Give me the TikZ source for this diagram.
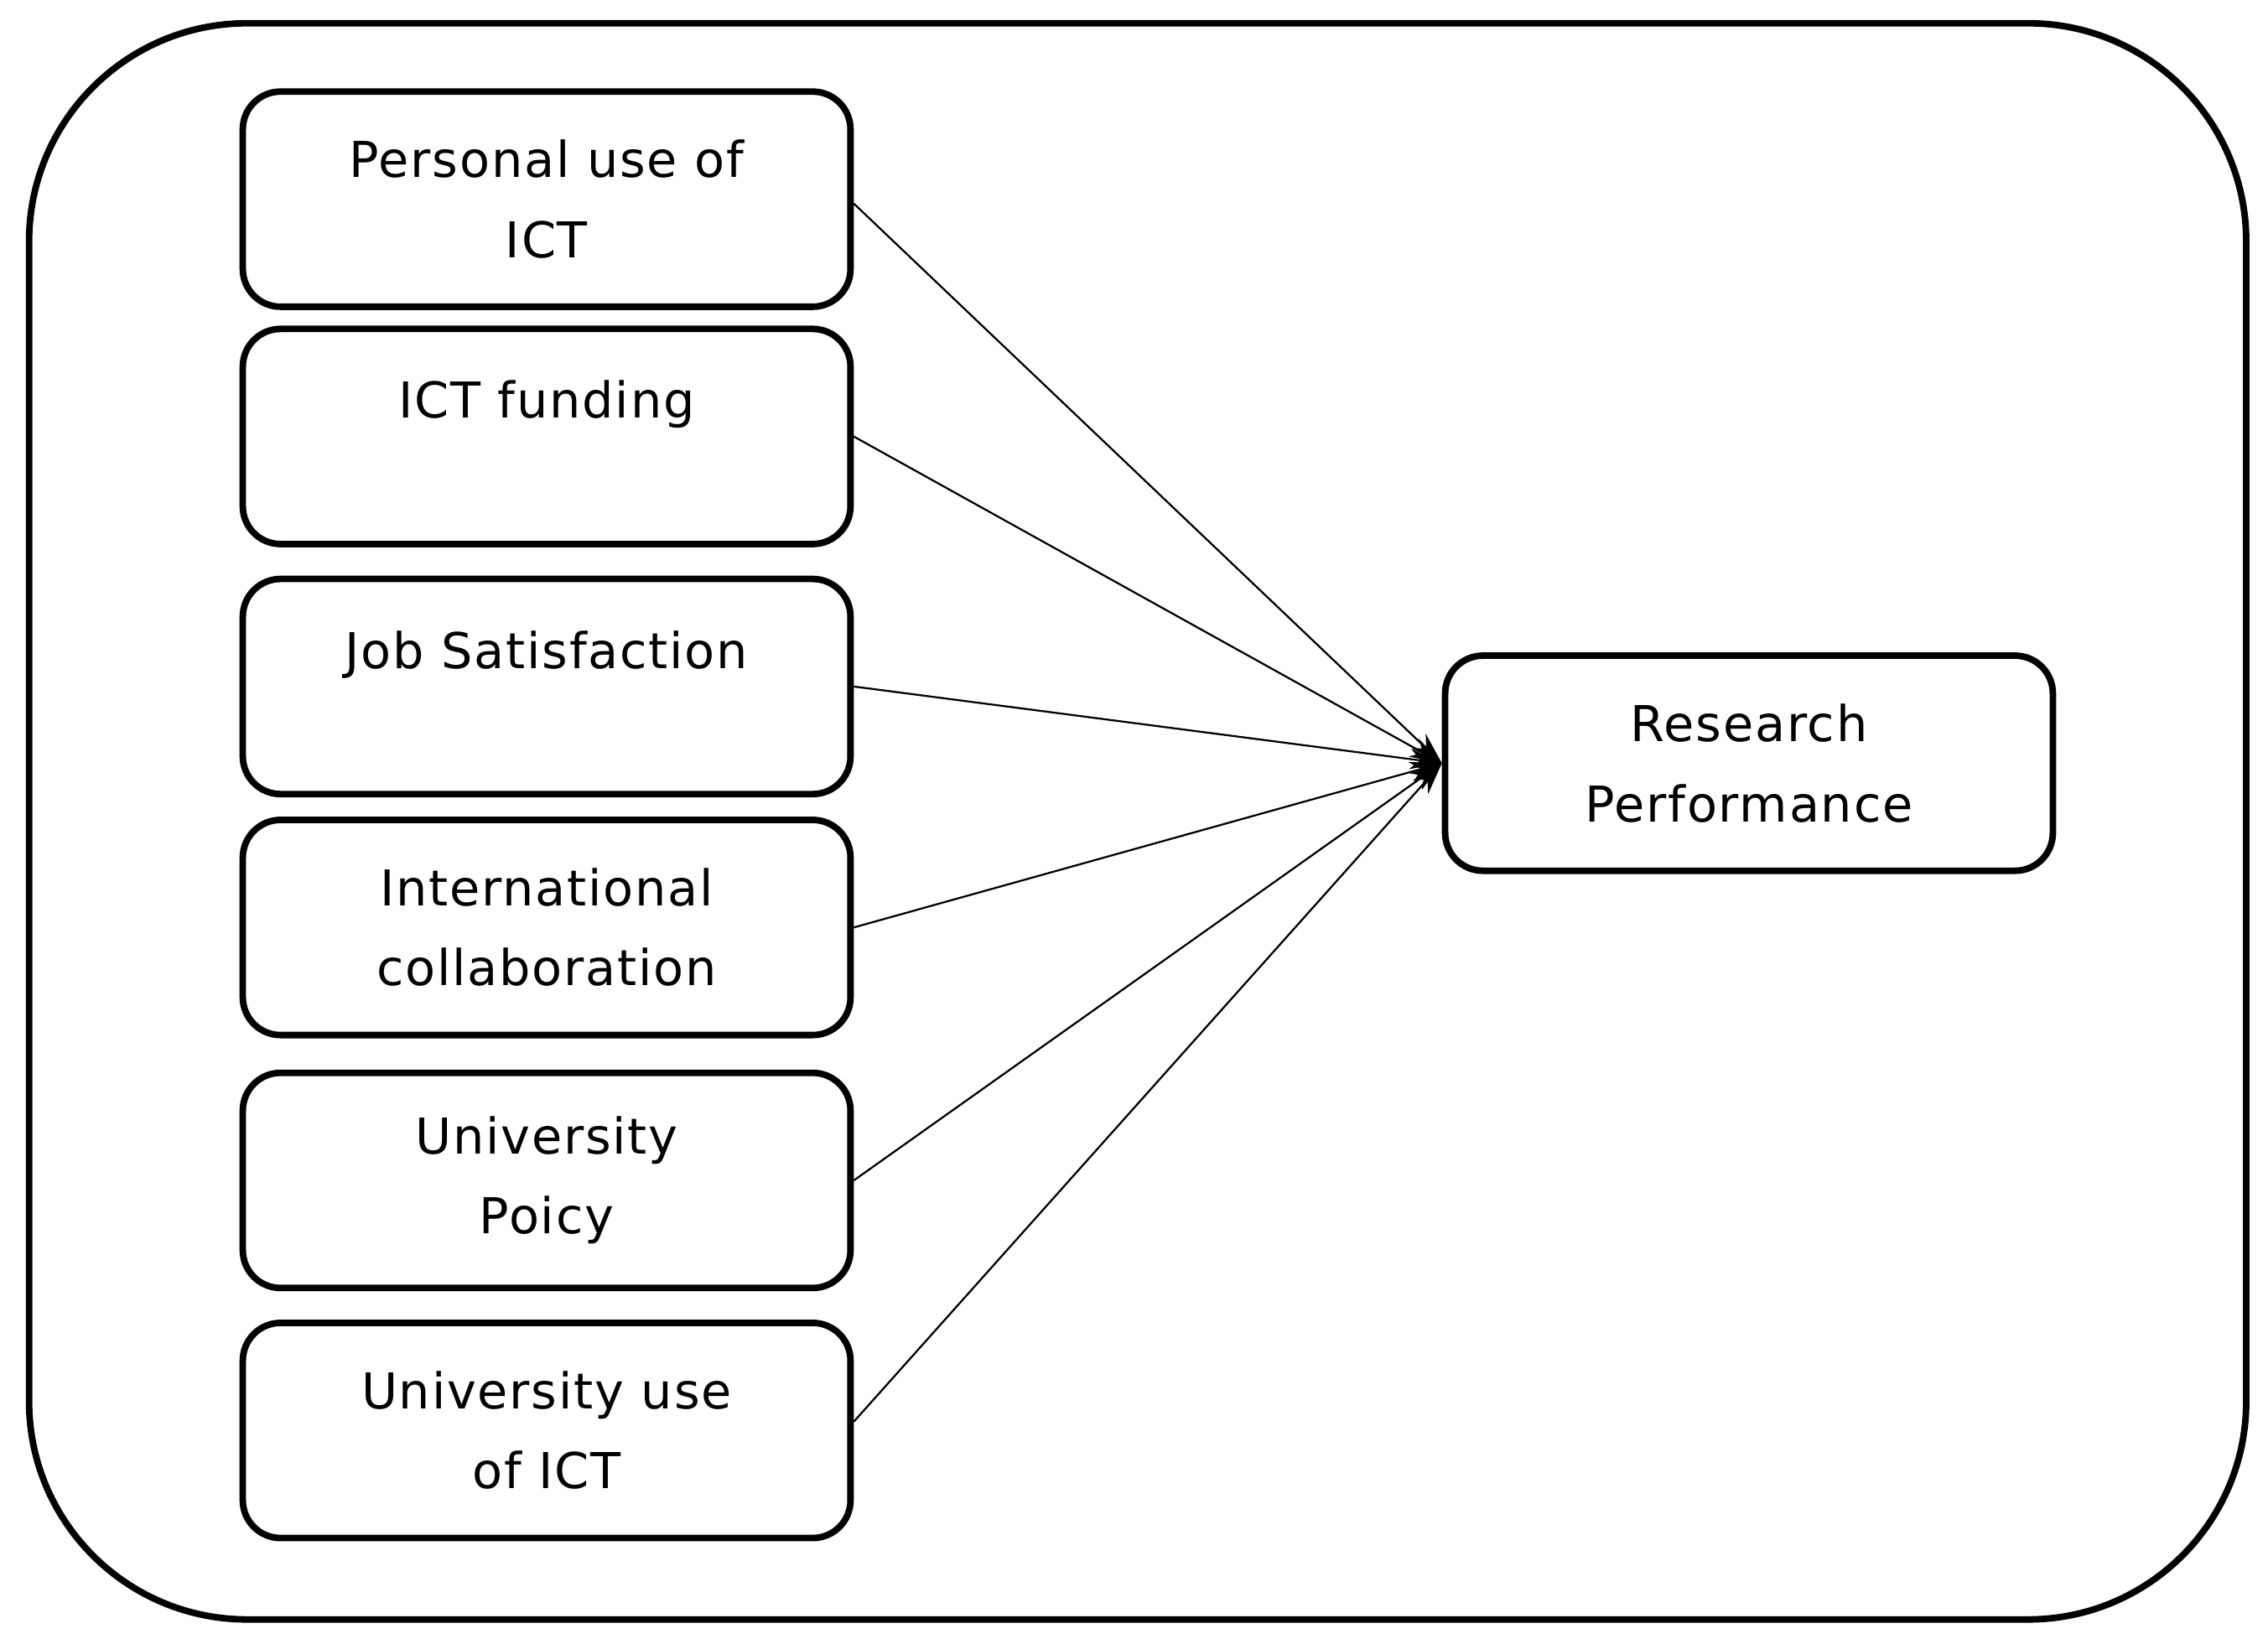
\documentclass[tikz,border=0pt]{standalone}
\usepackage{fontspec}
\setmainfont[LetterSpace=3]{DejaVu Sans}
\usetikzlibrary{arrows.meta}
\begin{document}
\begin{tikzpicture}[x=1pt,y=-1pt,
  box/.style={draw,line width=4.5pt,rounded corners=26pt,minimum width=418pt,minimum height=148pt,align=center,font=\fontsize{34}{55}\selectfont,inner sep=0pt},
  arr/.style={line width=1.3pt,-{Stealth[length=22pt,width=14pt]}}]
\useasboundingbox (0,0) rectangle (1560,1127);
\draw[line width=4.5pt,rounded corners=150pt] (20,16) rectangle (1545,1114);
\node[box] (a) at (376,137) {Personal use of\\ICT};
\node[box,anchor=north] (b) at (376,224) {\\[-25pt]ICT funding\\~};
\node[box,anchor=north] (c) at (376,396) {\\[-25pt]Job Satisfaction\\~};
\node[box] (d) at (376,638) {International\\collaboration};
\node[box] (e) at (376,812) {University\\Poicy};
\node[box] (f) at (376,984) {University use\\of ICT};
\node[box] (r) at (1203,525) {Research\\Performance};
\draw[arr] ([yshift=-3pt]a.east) -- (r.west);
\foreach \n in {b,c,d,e}
  \draw[arr] (\n.east) -- (r.west);
\draw[arr] ([yshift=6pt]f.east) -- (r.west);
\end{tikzpicture}
\end{document}
